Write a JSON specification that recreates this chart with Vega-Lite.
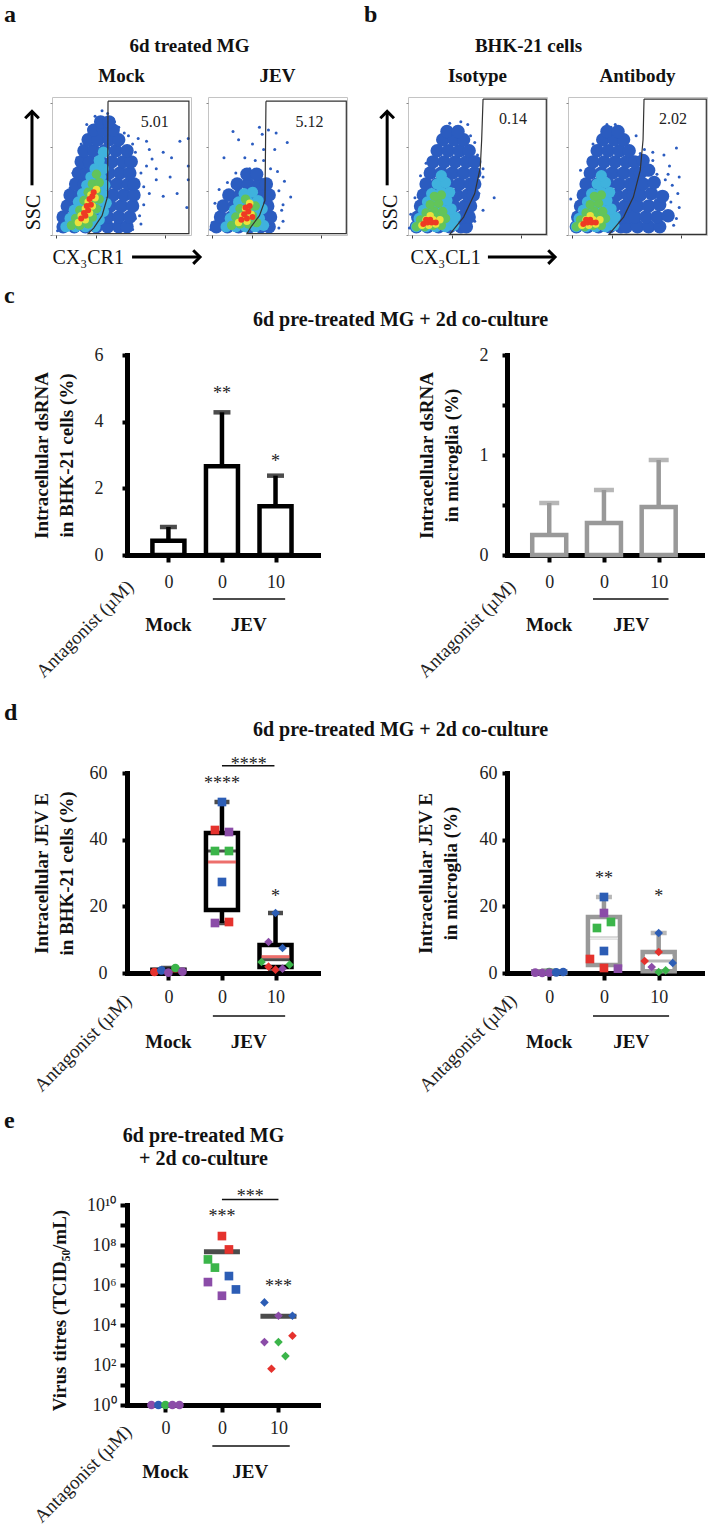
{
"$schema":"https://vega.github.io/schema/vega-lite/v6.json",
"background":"white",
"padding":{"left":0,"top":3,"right":0,"bottom":0},
"config":{
 "font":"Liberation Serif",
 "view":{"stroke":null},
 "title":{"font":"Liberation Serif","fontSize":20,"fontWeight":"bold","color":"#111"},
 "axis":{"labelFont":"Liberation Serif","titleFont":"Liberation Serif","grid":false},
 "text":{"font":"Liberation Serif"}
},
"datasets":{
 "one":[{"k":1}],
 "flow":[
{"p":1,"l":0,"x":62,"y":70},{"p":1,"l":0,"x":68,"y":68},{"p":1,"l":0,"x":72,"y":55},{"p":1,"l":0,"x":80,"y":60},{"p":1,"l":0,"x":98,"y":50},{"p":1,"l":0,"x":86,"y":56},{"p":1,"l":0,"x":64,"y":45},{"p":1,"l":0,"x":75,"y":40},{"p":1,"l":0,"x":70,"y":30},{"p":1,"l":0,"x":98,"y":40},{"p":1,"l":0,"x":98,"y":70},{"p":1,"l":0,"x":90,"y":30},{"p":1,"l":0,"x":85,"y":42},{"p":1,"l":0,"x":58,"y":66},{"p":1,"l":0,"x":55,"y":72},{"p":1,"l":0,"x":48,"y":78},{"p":1,"l":0,"x":44,"y":84},{"p":1,"l":0,"x":40,"y":88},{"p":1,"l":0,"x":36,"y":90},{"p":1,"l":0,"x":31,"y":86},{"p":1,"l":0,"x":66,"y":35},{"p":1,"l":0,"x":52,"y":74},{"p":1,"l":0,"x":66,"y":22},{"p":1,"l":0,"x":63,"y":14},{"p":1,"l":0,"x":64,"y":8},{"p":1,"l":0,"x":4,"y":3},{"p":1,"l":0,"x":5,"y":12},{"p":1,"l":0,"x":9,"y":24},{"p":1,"l":0,"x":13,"y":34},{"p":1,"l":0,"x":15,"y":45},{"p":1,"l":0,"x":18,"y":56},{"p":1,"l":0,"x":21,"y":66},{"p":1,"l":0,"x":24,"y":72},{"p":1,"l":0,"x":27,"y":78},{"p":1,"l":0,"x":45,"y":82},{"p":1,"l":0,"x":62,"y":28},{"p":1,"l":0,"x":97,"y":20},{"p":1,"l":0,"x":60,"y":60},{"p":1,"l":0,"x":68,"y":50},{"p":1,"l":0,"x":58,"y":4},{"p":1,"l":0,"x":60,"y":12},{"p":1,"l":0,"x":70,"y":62},{"p":1,"l":0,"x":75,"y":48},{"p":1,"l":0,"x":80,"y":28},{"p":1,"l":0,"x":92,"y":68},{"p":1,"l":0,"x":25,"y":80},
{"p":1,"l":1,"x":8,"y":6},{"p":1,"l":1,"x":16,"y":6},{"p":1,"l":1,"x":24,"y":6},{"p":1,"l":1,"x":32,"y":6},{"p":1,"l":1,"x":40,"y":6},{"p":1,"l":1,"x":48,"y":6},{"p":1,"l":1,"x":54,"y":6},
{"p":1,"l":1,"x":8,"y":13},{"p":1,"l":1,"x":16,"y":13},{"p":1,"l":1,"x":24,"y":13},{"p":1,"l":1,"x":32,"y":13},{"p":1,"l":1,"x":40,"y":13},{"p":1,"l":1,"x":48,"y":13},{"p":1,"l":1,"x":56,"y":13},
{"p":1,"l":1,"x":11,"y":21},{"p":1,"l":1,"x":18,"y":21},{"p":1,"l":1,"x":26,"y":21},{"p":1,"l":1,"x":34,"y":21},{"p":1,"l":1,"x":42,"y":21},{"p":1,"l":1,"x":50,"y":21},{"p":1,"l":1,"x":58,"y":21},
{"p":1,"l":1,"x":13,"y":29},{"p":1,"l":1,"x":20,"y":29},{"p":1,"l":1,"x":28,"y":29},{"p":1,"l":1,"x":36,"y":29},{"p":1,"l":1,"x":44,"y":29},{"p":1,"l":1,"x":52,"y":29},{"p":1,"l":1,"x":59,"y":29},
{"p":1,"l":1,"x":17,"y":37},{"p":1,"l":1,"x":23,"y":37},{"p":1,"l":1,"x":31,"y":37},{"p":1,"l":1,"x":39,"y":37},{"p":1,"l":1,"x":47,"y":37},{"p":1,"l":1,"x":55,"y":37},{"p":1,"l":1,"x":59,"y":37},
{"p":1,"l":1,"x":19,"y":45},{"p":1,"l":1,"x":25,"y":45},{"p":1,"l":1,"x":33,"y":45},{"p":1,"l":1,"x":41,"y":45},{"p":1,"l":1,"x":49,"y":45},{"p":1,"l":1,"x":56,"y":45},
{"p":1,"l":1,"x":21,"y":53},{"p":1,"l":1,"x":27,"y":53},{"p":1,"l":1,"x":35,"y":53},{"p":1,"l":1,"x":43,"y":53},{"p":1,"l":1,"x":51,"y":53},{"p":1,"l":1,"x":57,"y":53},
{"p":1,"l":1,"x":23,"y":61},{"p":1,"l":1,"x":30,"y":61},{"p":1,"l":1,"x":38,"y":61},{"p":1,"l":1,"x":46,"y":61},{"p":1,"l":1,"x":54,"y":61},
{"p":1,"l":1,"x":26,"y":69},{"p":1,"l":1,"x":33,"y":69},{"p":1,"l":1,"x":41,"y":69},{"p":1,"l":1,"x":48,"y":69},
{"p":1,"l":1,"x":30,"y":76},{"p":1,"l":1,"x":37,"y":76},{"p":1,"l":1,"x":44,"y":76},
{"p":1,"l":1,"x":35,"y":82},{"p":1,"l":1,"x":41,"y":82},
{"p":1,"l":2,"x":10,"y":6},{"p":1,"l":2,"x":17,"y":6},{"p":1,"l":2,"x":24,"y":6},{"p":1,"l":2,"x":31,"y":6},{"p":1,"l":2,"x":13,"y":12},{"p":1,"l":2,"x":20,"y":12},{"p":1,"l":2,"x":27,"y":12},{"p":1,"l":2,"x":34,"y":11},{"p":1,"l":2,"x":16,"y":18},{"p":1,"l":2,"x":23,"y":18},{"p":1,"l":2,"x":30,"y":18},{"p":1,"l":2,"x":37,"y":17},{"p":1,"l":2,"x":19,"y":24},{"p":1,"l":2,"x":26,"y":24},{"p":1,"l":2,"x":33,"y":24},{"p":1,"l":2,"x":39,"y":23},{"p":1,"l":2,"x":22,"y":30},{"p":1,"l":2,"x":29,"y":30},{"p":1,"l":2,"x":36,"y":30},{"p":1,"l":2,"x":25,"y":36},{"p":1,"l":2,"x":32,"y":36},{"p":1,"l":2,"x":38,"y":36},{"p":1,"l":2,"x":28,"y":42},{"p":1,"l":2,"x":35,"y":42},{"p":1,"l":2,"x":31,"y":48},{"p":1,"l":2,"x":37,"y":48},{"p":1,"l":2,"x":34,"y":54},{"p":1,"l":2,"x":37,"y":60},
{"p":1,"l":3,"x":14,"y":7},{"p":1,"l":3,"x":20,"y":7},{"p":1,"l":3,"x":26,"y":8},{"p":1,"l":3,"x":17,"y":12},{"p":1,"l":3,"x":23,"y":13},{"p":1,"l":3,"x":29,"y":13},{"p":1,"l":3,"x":20,"y":18},{"p":1,"l":3,"x":26,"y":19},{"p":1,"l":3,"x":32,"y":19},{"p":1,"l":3,"x":23,"y":25},{"p":1,"l":3,"x":29,"y":25},{"p":1,"l":3,"x":34,"y":26},{"p":1,"l":3,"x":26,"y":31},{"p":1,"l":3,"x":32,"y":32},{"p":1,"l":3,"x":29,"y":37},{"p":1,"l":3,"x":34,"y":38},{"p":1,"l":3,"x":32,"y":44},
{"p":1,"l":4,"x":19,"y":9},{"p":1,"l":4,"x":24,"y":11},{"p":1,"l":4,"x":21,"y":14},{"p":1,"l":4,"x":27,"y":16},{"p":1,"l":4,"x":24,"y":19},{"p":1,"l":4,"x":29,"y":21},{"p":1,"l":4,"x":26,"y":24},{"p":1,"l":4,"x":31,"y":27},{"p":1,"l":4,"x":28,"y":29},{"p":1,"l":4,"x":32,"y":33},
{"p":1,"l":5,"x":21,"y":12},{"p":1,"l":5,"x":24,"y":14},{"p":1,"l":5,"x":23,"y":16},{"p":1,"l":5,"x":26,"y":18},{"p":1,"l":5,"x":25,"y":21},{"p":1,"l":5,"x":28,"y":22},{"p":1,"l":5,"x":27,"y":26},{"p":1,"l":5,"x":29,"y":28},{"p":1,"l":5,"x":30,"y":31},
{"p":2,"l":0,"x":18,"y":75},{"p":2,"l":0,"x":22,"y":69},{"p":2,"l":0,"x":37,"y":78},{"p":2,"l":0,"x":39,"y":73},{"p":2,"l":0,"x":43.5,"y":76},{"p":2,"l":0,"x":49,"y":74},{"p":2,"l":0,"x":57,"y":67},{"p":2,"l":0,"x":32,"y":66},{"p":2,"l":0,"x":40,"y":62},{"p":2,"l":0,"x":48,"y":62},{"p":2,"l":0,"x":11.5,"y":56},{"p":2,"l":0,"x":26.5,"y":56},{"p":2,"l":0,"x":34,"y":54},{"p":2,"l":0,"x":40,"y":54},{"p":2,"l":0,"x":50,"y":46},{"p":2,"l":0,"x":55,"y":39},{"p":2,"l":0,"x":59.5,"y":27.5},{"p":2,"l":0,"x":8,"y":33},{"p":2,"l":0,"x":14,"y":38},{"p":2,"l":0,"x":5,"y":23},{"p":2,"l":0,"x":51,"y":32},{"p":2,"l":0,"x":51,"y":5},{"p":2,"l":0,"x":54,"y":10},{"p":2,"l":0,"x":2,"y":4},{"p":2,"l":0,"x":3,"y":9},{"p":2,"l":0,"x":53,"y":18},{"p":2,"l":0,"x":54,"y":22},{"p":2,"l":0,"x":45,"y":48},{"p":2,"l":0,"x":20,"y":45},{"p":2,"l":0,"x":30,"y":48},
{"p":2,"l":1,"x":6,"y":6},{"p":2,"l":1,"x":14,"y":6},{"p":2,"l":1,"x":22,"y":6},{"p":2,"l":1,"x":30,"y":6},{"p":2,"l":1,"x":38,"y":6},{"p":2,"l":1,"x":44,"y":6},
{"p":2,"l":1,"x":9,"y":13},{"p":2,"l":1,"x":17,"y":13},{"p":2,"l":1,"x":25,"y":13},{"p":2,"l":1,"x":33,"y":13},{"p":2,"l":1,"x":41,"y":13},{"p":2,"l":1,"x":45,"y":13},
{"p":2,"l":1,"x":11,"y":21},{"p":2,"l":1,"x":19,"y":21},{"p":2,"l":1,"x":27,"y":21},{"p":2,"l":1,"x":35,"y":21},{"p":2,"l":1,"x":43,"y":21},
{"p":2,"l":1,"x":15,"y":29},{"p":2,"l":1,"x":23,"y":29},{"p":2,"l":1,"x":31,"y":29},{"p":2,"l":1,"x":39,"y":29},{"p":2,"l":1,"x":44,"y":29},
{"p":2,"l":1,"x":21,"y":37},{"p":2,"l":1,"x":29,"y":37},{"p":2,"l":1,"x":37,"y":37},{"p":2,"l":1,"x":42,"y":37},
{"p":2,"l":1,"x":28,"y":44},{"p":2,"l":1,"x":35,"y":44},
{"p":2,"l":2,"x":13,"y":6},{"p":2,"l":2,"x":20,"y":6},{"p":2,"l":2,"x":27,"y":6},{"p":2,"l":2,"x":34,"y":6},{"p":2,"l":2,"x":40,"y":7},{"p":2,"l":2,"x":16,"y":12},{"p":2,"l":2,"x":23,"y":12},{"p":2,"l":2,"x":30,"y":12},{"p":2,"l":2,"x":37,"y":12},{"p":2,"l":2,"x":19,"y":18},{"p":2,"l":2,"x":26,"y":18},{"p":2,"l":2,"x":33,"y":18},{"p":2,"l":2,"x":39,"y":19},{"p":2,"l":2,"x":22,"y":24},{"p":2,"l":2,"x":29,"y":24},{"p":2,"l":2,"x":36,"y":25},{"p":2,"l":2,"x":26,"y":30},{"p":2,"l":2,"x":32,"y":31},
{"p":2,"l":3,"x":17,"y":7},{"p":2,"l":3,"x":23,"y":8},{"p":2,"l":3,"x":29,"y":8},{"p":2,"l":3,"x":35,"y":9},{"p":2,"l":3,"x":20,"y":13},{"p":2,"l":3,"x":26,"y":14},{"p":2,"l":3,"x":32,"y":14},{"p":2,"l":3,"x":23,"y":19},{"p":2,"l":3,"x":29,"y":20},{"p":2,"l":3,"x":34,"y":21},{"p":2,"l":3,"x":27,"y":26},
{"p":2,"l":4,"x":22,"y":9},{"p":2,"l":4,"x":28,"y":10},{"p":2,"l":4,"x":25,"y":14},{"p":2,"l":4,"x":31,"y":15},{"p":2,"l":4,"x":27,"y":19},{"p":2,"l":4,"x":30,"y":23},
{"p":2,"l":5,"x":24,"y":11},{"p":2,"l":5,"x":28,"y":12},{"p":2,"l":5,"x":26,"y":15},{"p":2,"l":5,"x":29,"y":17},{"p":2,"l":5,"x":27,"y":20},{"p":2,"l":5,"x":30,"y":21},{"p":2,"l":5,"x":32,"y":13},
{"p":3,"l":0,"x":43,"y":80},{"p":3,"l":0,"x":27,"y":77},{"p":3,"l":0,"x":34,"y":78},{"p":3,"l":0,"x":30,"y":81},{"p":3,"l":0,"x":19.5,"y":62},{"p":3,"l":0,"x":48,"y":67},{"p":3,"l":0,"x":54,"y":48},{"p":3,"l":0,"x":54,"y":42},{"p":3,"l":0,"x":62,"y":27},{"p":3,"l":0,"x":54,"y":18},{"p":3,"l":0,"x":9,"y":43},{"p":3,"l":0,"x":5,"y":27},{"p":3,"l":0,"x":2,"y":15},{"p":3,"l":0,"x":22,"y":70},{"p":3,"l":0,"x":45,"y":72},{"p":3,"l":0,"x":50,"y":58},{"p":3,"l":0,"x":13,"y":52},{"p":3,"l":0,"x":51,"y":30},{"p":3,"l":0,"x":48,"y":10},{"p":3,"l":0,"x":1,"y":5},{"p":3,"l":0,"x":38,"y":82},
{"p":3,"l":1,"x":6,"y":6},{"p":3,"l":1,"x":14,"y":6},{"p":3,"l":1,"x":22,"y":6},{"p":3,"l":1,"x":30,"y":6},{"p":3,"l":1,"x":38,"y":6},{"p":3,"l":1,"x":42,"y":6},
{"p":3,"l":1,"x":7,"y":13},{"p":3,"l":1,"x":15,"y":13},{"p":3,"l":1,"x":23,"y":13},{"p":3,"l":1,"x":31,"y":13},{"p":3,"l":1,"x":39,"y":13},{"p":3,"l":1,"x":44,"y":13},
{"p":3,"l":1,"x":9,"y":21},{"p":3,"l":1,"x":17,"y":21},{"p":3,"l":1,"x":25,"y":21},{"p":3,"l":1,"x":33,"y":21},{"p":3,"l":1,"x":41,"y":21},{"p":3,"l":1,"x":45,"y":21},
{"p":3,"l":1,"x":11,"y":29},{"p":3,"l":1,"x":19,"y":29},{"p":3,"l":1,"x":27,"y":29},{"p":3,"l":1,"x":35,"y":29},{"p":3,"l":1,"x":43,"y":29},{"p":3,"l":1,"x":47,"y":29},
{"p":3,"l":1,"x":13,"y":37},{"p":3,"l":1,"x":21,"y":37},{"p":3,"l":1,"x":29,"y":37},{"p":3,"l":1,"x":37,"y":37},{"p":3,"l":1,"x":45,"y":37},{"p":3,"l":1,"x":48,"y":37},
{"p":3,"l":1,"x":16,"y":45},{"p":3,"l":1,"x":24,"y":45},{"p":3,"l":1,"x":32,"y":45},{"p":3,"l":1,"x":40,"y":45},{"p":3,"l":1,"x":48,"y":45},
{"p":3,"l":1,"x":18,"y":53},{"p":3,"l":1,"x":26,"y":53},{"p":3,"l":1,"x":34,"y":53},{"p":3,"l":1,"x":42,"y":53},{"p":3,"l":1,"x":48,"y":53},
{"p":3,"l":1,"x":21,"y":61},{"p":3,"l":1,"x":29,"y":61},{"p":3,"l":1,"x":37,"y":61},{"p":3,"l":1,"x":44,"y":61},
{"p":3,"l":1,"x":25,"y":69},{"p":3,"l":1,"x":33,"y":69},{"p":3,"l":1,"x":40,"y":69},
{"p":3,"l":1,"x":28,"y":75},{"p":3,"l":1,"x":36,"y":75},
{"p":3,"l":2,"x":6,"y":6},{"p":3,"l":2,"x":13,"y":6},{"p":3,"l":2,"x":20,"y":6},{"p":3,"l":2,"x":27,"y":6},{"p":3,"l":2,"x":33,"y":7},{"p":3,"l":2,"x":8,"y":12},{"p":3,"l":2,"x":15,"y":12},{"p":3,"l":2,"x":22,"y":12},{"p":3,"l":2,"x":29,"y":12},{"p":3,"l":2,"x":34,"y":13},{"p":3,"l":2,"x":11,"y":18},{"p":3,"l":2,"x":18,"y":18},{"p":3,"l":2,"x":25,"y":18},{"p":3,"l":2,"x":31,"y":19},{"p":3,"l":2,"x":14,"y":24},{"p":3,"l":2,"x":21,"y":24},{"p":3,"l":2,"x":28,"y":25},{"p":3,"l":2,"x":17,"y":30},{"p":3,"l":2,"x":24,"y":31},{"p":3,"l":2,"x":30,"y":31},{"p":3,"l":2,"x":21,"y":37},{"p":3,"l":2,"x":27,"y":38},{"p":3,"l":2,"x":24,"y":43},
{"p":3,"l":3,"x":6,"y":6},{"p":3,"l":3,"x":12,"y":6},{"p":3,"l":3,"x":18,"y":7},{"p":3,"l":3,"x":24,"y":7},{"p":3,"l":3,"x":9,"y":11},{"p":3,"l":3,"x":15,"y":11},{"p":3,"l":3,"x":21,"y":12},{"p":3,"l":3,"x":27,"y":12},{"p":3,"l":3,"x":13,"y":16},{"p":3,"l":3,"x":19,"y":17},{"p":3,"l":3,"x":25,"y":17},{"p":3,"l":3,"x":16,"y":22},{"p":3,"l":3,"x":22,"y":23},{"p":3,"l":3,"x":19,"y":28},{"p":3,"l":3,"x":24,"y":29},
{"p":3,"l":4,"x":10,"y":7},{"p":3,"l":4,"x":15,"y":7},{"p":3,"l":4,"x":20,"y":8},{"p":3,"l":4,"x":13,"y":11},{"p":3,"l":4,"x":18,"y":11},{"p":3,"l":4,"x":23,"y":11},{"p":3,"l":4,"x":16,"y":14},
{"p":3,"l":5,"x":11,"y":8},{"p":3,"l":5,"x":14,"y":9},{"p":3,"l":5,"x":17,"y":9},{"p":3,"l":5,"x":20,"y":9},{"p":3,"l":5,"x":13,"y":11},{"p":3,"l":5,"x":16,"y":11},
{"p":4,"l":0,"x":78,"y":63},{"p":4,"l":0,"x":61,"y":60},{"p":4,"l":0,"x":61,"y":54},{"p":4,"l":0,"x":73,"y":50},{"p":4,"l":0,"x":80,"y":42},{"p":4,"l":0,"x":80,"y":20},{"p":4,"l":0,"x":79,"y":30},{"p":4,"l":0,"x":52,"y":59},{"p":4,"l":0,"x":55,"y":62},{"p":4,"l":0,"x":31,"y":78},{"p":4,"l":0,"x":37,"y":75},{"p":4,"l":0,"x":42,"y":70},{"p":4,"l":0,"x":25,"y":76},{"p":4,"l":0,"x":18,"y":66},{"p":4,"l":0,"x":9,"y":47},{"p":4,"l":0,"x":2,"y":26},{"p":4,"l":0,"x":49,"y":72},{"p":4,"l":0,"x":69,"y":58},{"p":4,"l":0,"x":63,"y":25},{"p":4,"l":0,"x":76,"y":7},{"p":4,"l":0,"x":66,"y":3},{"p":4,"l":0,"x":75,"y":36},{"p":4,"l":0,"x":72,"y":44},{"p":4,"l":0,"x":78,"y":12},{"p":4,"l":0,"x":70,"y":40},{"p":4,"l":0,"x":64,"y":44},{"p":4,"l":0,"x":74,"y":24},{"p":4,"l":0,"x":45,"y":56},{"p":4,"l":0,"x":34,"y":80},{"p":4,"l":0,"x":28,"y":80},
{"p":4,"l":1,"x":6,"y":6},{"p":4,"l":1,"x":14,"y":6},{"p":4,"l":1,"x":22,"y":6},{"p":4,"l":1,"x":30,"y":6},{"p":4,"l":1,"x":38,"y":6},{"p":4,"l":1,"x":42,"y":6},
{"p":4,"l":1,"x":7,"y":13},{"p":4,"l":1,"x":15,"y":13},{"p":4,"l":1,"x":23,"y":13},{"p":4,"l":1,"x":31,"y":13},{"p":4,"l":1,"x":39,"y":13},{"p":4,"l":1,"x":44,"y":13},
{"p":4,"l":1,"x":9,"y":21},{"p":4,"l":1,"x":17,"y":21},{"p":4,"l":1,"x":25,"y":21},{"p":4,"l":1,"x":33,"y":21},{"p":4,"l":1,"x":41,"y":21},{"p":4,"l":1,"x":45,"y":21},
{"p":4,"l":1,"x":11,"y":29},{"p":4,"l":1,"x":19,"y":29},{"p":4,"l":1,"x":27,"y":29},{"p":4,"l":1,"x":35,"y":29},{"p":4,"l":1,"x":43,"y":29},{"p":4,"l":1,"x":47,"y":29},
{"p":4,"l":1,"x":13,"y":37},{"p":4,"l":1,"x":21,"y":37},{"p":4,"l":1,"x":29,"y":37},{"p":4,"l":1,"x":37,"y":37},{"p":4,"l":1,"x":45,"y":37},{"p":4,"l":1,"x":48,"y":37},
{"p":4,"l":1,"x":16,"y":45},{"p":4,"l":1,"x":24,"y":45},{"p":4,"l":1,"x":32,"y":45},{"p":4,"l":1,"x":40,"y":45},{"p":4,"l":1,"x":48,"y":45},
{"p":4,"l":1,"x":18,"y":53},{"p":4,"l":1,"x":26,"y":53},{"p":4,"l":1,"x":34,"y":53},{"p":4,"l":1,"x":42,"y":53},{"p":4,"l":1,"x":48,"y":53},
{"p":4,"l":1,"x":21,"y":61},{"p":4,"l":1,"x":29,"y":61},{"p":4,"l":1,"x":37,"y":61},{"p":4,"l":1,"x":44,"y":61},
{"p":4,"l":1,"x":25,"y":69},{"p":4,"l":1,"x":33,"y":69},{"p":4,"l":1,"x":40,"y":69},
{"p":4,"l":1,"x":28,"y":75},{"p":4,"l":1,"x":36,"y":75},
{"p":4,"l":1,"x":50,"y":6},{"p":4,"l":1,"x":58,"y":6},{"p":4,"l":1,"x":66,"y":6},{"p":4,"l":1,"x":48,"y":13},{"p":4,"l":1,"x":56,"y":13},{"p":4,"l":1,"x":64,"y":13},{"p":4,"l":1,"x":72,"y":14},{"p":4,"l":1,"x":50,"y":21},{"p":4,"l":1,"x":58,"y":21},{"p":4,"l":1,"x":66,"y":22},{"p":4,"l":1,"x":52,"y":29},{"p":4,"l":1,"x":60,"y":30},{"p":4,"l":1,"x":68,"y":28},{"p":4,"l":1,"x":54,"y":37},{"p":4,"l":1,"x":62,"y":38},{"p":4,"l":1,"x":52,"y":45},{"p":4,"l":1,"x":58,"y":47},{"p":4,"l":1,"x":54,"y":54},
{"p":4,"l":2,"x":6,"y":6},{"p":4,"l":2,"x":13,"y":6},{"p":4,"l":2,"x":20,"y":6},{"p":4,"l":2,"x":27,"y":6},{"p":4,"l":2,"x":33,"y":7},{"p":4,"l":2,"x":8,"y":12},{"p":4,"l":2,"x":15,"y":12},{"p":4,"l":2,"x":22,"y":12},{"p":4,"l":2,"x":29,"y":12},{"p":4,"l":2,"x":34,"y":13},{"p":4,"l":2,"x":11,"y":18},{"p":4,"l":2,"x":18,"y":18},{"p":4,"l":2,"x":25,"y":18},{"p":4,"l":2,"x":31,"y":19},{"p":4,"l":2,"x":14,"y":24},{"p":4,"l":2,"x":21,"y":24},{"p":4,"l":2,"x":28,"y":25},{"p":4,"l":2,"x":17,"y":30},{"p":4,"l":2,"x":24,"y":31},{"p":4,"l":2,"x":30,"y":31},{"p":4,"l":2,"x":21,"y":37},{"p":4,"l":2,"x":27,"y":38},{"p":4,"l":2,"x":24,"y":43},
{"p":4,"l":3,"x":6,"y":6},{"p":4,"l":3,"x":12,"y":6},{"p":4,"l":3,"x":18,"y":7},{"p":4,"l":3,"x":24,"y":7},{"p":4,"l":3,"x":9,"y":11},{"p":4,"l":3,"x":15,"y":11},{"p":4,"l":3,"x":21,"y":12},{"p":4,"l":3,"x":27,"y":12},{"p":4,"l":3,"x":13,"y":16},{"p":4,"l":3,"x":19,"y":17},{"p":4,"l":3,"x":25,"y":17},{"p":4,"l":3,"x":16,"y":22},{"p":4,"l":3,"x":22,"y":23},{"p":4,"l":3,"x":19,"y":28},{"p":4,"l":3,"x":24,"y":29},
{"p":4,"l":4,"x":10,"y":7},{"p":4,"l":4,"x":15,"y":7},{"p":4,"l":4,"x":20,"y":8},{"p":4,"l":4,"x":13,"y":11},{"p":4,"l":4,"x":18,"y":11},{"p":4,"l":4,"x":23,"y":11},{"p":4,"l":4,"x":16,"y":14},
{"p":4,"l":5,"x":11,"y":8},{"p":4,"l":5,"x":14,"y":9},{"p":4,"l":5,"x":17,"y":9},{"p":4,"l":5,"x":20,"y":9},{"p":4,"l":5,"x":13,"y":11},{"p":4,"l":5,"x":16,"y":11}
 ],
 "gates":[
{"p":1,"i":0,"x":40.3,"y":97},{"p":1,"i":1,"x":98.5,"y":97},{"p":1,"i":2,"x":98.5,"y":1},{"p":1,"i":3,"x":26,"y":1},{"p":1,"i":4,"x":30,"y":5},{"p":1,"i":5,"x":36,"y":14},{"p":1,"i":6,"x":40,"y":28},{"p":1,"i":7,"x":40.3,"y":97},
{"p":2,"i":0,"x":41.7,"y":97},{"p":2,"i":1,"x":99.5,"y":97},{"p":2,"i":2,"x":99.5,"y":1},{"p":2,"i":3,"x":28,"y":1},{"p":2,"i":4,"x":31,"y":6},{"p":2,"i":5,"x":37,"y":14},{"p":2,"i":6,"x":41,"y":25},{"p":2,"i":7,"x":41.7,"y":97},
{"p":3,"i":0,"x":54,"y":98.5},{"p":3,"i":1,"x":99.5,"y":98.5},{"p":3,"i":2,"x":99.5,"y":0.5},{"p":3,"i":3,"x":30,"y":0.5},{"p":3,"i":4,"x":40,"y":13},{"p":3,"i":5,"x":48,"y":30},{"p":3,"i":6,"x":52,"y":49},{"p":3,"i":7,"x":53,"y":69},{"p":3,"i":8,"x":54,"y":98.5},
{"p":4,"i":0,"x":54.7,"y":98.5},{"p":4,"i":1,"x":99.5,"y":98.5},{"p":4,"i":2,"x":99.5,"y":0.5},{"p":4,"i":3,"x":29.5,"y":0.5},{"p":4,"i":4,"x":40,"y":13},{"p":4,"i":5,"x":47,"y":27.5},{"p":4,"i":6,"x":52,"y":47},{"p":4,"i":7,"x":54,"y":69},{"p":4,"i":8,"x":54.7,"y":98.5}
 ],
 "cL":[{"g":1,"mean":0.43,"upper":0.84},{"g":2,"mean":2.66,"upper":4.28},{"g":3,"mean":1.46,"upper":2.38}],
 "cR":[{"g":1,"mean":0.2,"upper":0.52},{"g":2,"mean":0.32,"upper":0.65},{"g":3,"mean":0.48,"upper":0.95}],
 "dLb":[{"g":1,"lo":0,"q1":0.2,"med":0.4,"mean":0.55,"q3":1.0,"hi":1.5},{"g":2,"lo":15,"q1":18.9,"med":36.6,"mean":33.3,"q3":42,"hi":51.3},{"g":3,"lo":0.5,"q1":1.8,"med":4.0,"mean":4.9,"q3":8.4,"hi":18}],
 "dLp":[
{"g":1,"v":0.3,"c":"red","s":"l2"},{"g":1,"v":0.8,"c":"blue","s":"l1"},{"g":1,"v":0.1,"c":"purple","s":"c"},{"g":1,"v":1.5,"c":"green","s":"r1"},{"g":1,"v":0.4,"c":"purple","s":"r2"},
{"g":2,"v":51.3,"c":"blue","s":"c"},{"g":2,"v":42.9,"c":"red","s":"l1"},{"g":2,"v":42.3,"c":"purple","s":"r1"},{"g":2,"v":36.6,"c":"green","s":"l1"},{"g":2,"v":36.6,"c":"green","s":"r1"},{"g":2,"v":27.3,"c":"blue","s":"c"},{"g":2,"v":15,"c":"purple","s":"l1"},{"g":2,"v":15.3,"c":"red","s":"r1"},
{"g":3,"v":18,"c":"blue","s":"c"},{"g":3,"v":9.3,"c":"purple","s":"l1"},{"g":3,"v":7.5,"c":"blue","s":"r1"},{"g":3,"v":3.3,"c":"green","s":"l2"},{"g":3,"v":2.5,"c":"green","s":"r2"},{"g":3,"v":1.9,"c":"red","s":"l1"},{"g":3,"v":1.0,"c":"red","s":"c"},{"g":3,"v":1.3,"c":"purple","s":"r1"}
 ],
 "dRb":[{"g":1,"lo":0,"q1":0,"med":0.2,"mean":0.2,"q3":0.5,"hi":0.8},{"g":2,"lo":1.3,"q1":2.4,"med":10.5,"mean":10.4,"q3":16.8,"hi":22.8},{"g":3,"lo":0.3,"q1":0.5,"med":3.6,"mean":4.8,"q3":6.3,"hi":12}],
 "dRp":[
{"g":1,"v":0.1,"c":"purple","s":"l2"},{"g":1,"v":0,"c":"purple","s":"l1"},{"g":1,"v":0.3,"c":"green","s":"c"},{"g":1,"v":0.1,"c":"purple","s":"c"},{"g":1,"v":0.2,"c":"blue","s":"r1"},{"g":1,"v":0.3,"c":"blue","s":"r2"},
{"g":2,"v":22.8,"c":"blue","s":"c"},{"g":2,"v":18,"c":"purple","s":"c"},{"g":2,"v":15.3,"c":"green","s":"r1"},{"g":2,"v":13.5,"c":"green","s":"l1"},{"g":2,"v":6.6,"c":"blue","s":"c"},{"g":2,"v":4.2,"c":"red","s":"l2"},{"g":2,"v":1.5,"c":"red","s":"c"},{"g":2,"v":1.3,"c":"purple","s":"r2"},
{"g":3,"v":12,"c":"blue","s":"c"},{"g":3,"v":6.3,"c":"red","s":"c"},{"g":3,"v":3.6,"c":"red","s":"l2"},{"g":3,"v":3.0,"c":"blue","s":"r2"},{"g":3,"v":1.8,"c":"purple","s":"l1"},{"g":3,"v":0.3,"c":"green","s":"c"},{"g":3,"v":0.8,"c":"green","s":"r1"}
 ],
 "ep":[
{"g":1,"v":1,"c":"purple","s":"l2"},{"g":1,"v":1,"c":"blue","s":"l1"},{"g":1,"v":1,"c":"green","s":"c"},{"g":1,"v":1,"c":"purple","s":"r1"},{"g":1,"v":1,"c":"purple","s":"r2"},
{"g":2,"v":280000000,"c":"red","s":"c"},{"g":2,"v":60000000,"c":"red","s":"r1"},{"g":2,"v":19000000,"c":"green","s":"l2"},{"g":2,"v":7400000,"c":"green","s":"l1"},{"g":2,"v":2800000,"c":"blue","s":"r1"},{"g":2,"v":1400000,"c":"purple","s":"l2"},{"g":2,"v":600000,"c":"blue","s":"r2"},{"g":2,"v":290000,"c":"purple","s":"c"},
{"g":3,"v":135000,"c":"blue","s":"l2"},{"g":3,"v":29000,"c":"purple","s":"c"},{"g":3,"v":29000,"c":"blue","s":"r2"},{"g":3,"v":2900,"c":"red","s":"r2"},{"g":3,"v":1400,"c":"purple","s":"l2"},{"g":3,"v":1400,"c":"green","s":"c"},{"g":3,"v":280,"c":"green","s":"r1"},{"g":3,"v":65,"c":"red","s":"l1"}
 ],
 "em":[{"g":2,"med":46000000},{"g":3,"med":27000}]
},
"spacing":0,
"bounds":"full",
"vconcat":[
 {"spacing":0,"bounds":"flush","hconcat":[
  {"width":52,"height":187,"view":{"fill":"#ffffff"},"title":{"text":"a","anchor":"start","fontSize":24,"offset":70,"dx":4},"data":{"values":[]},"mark":"point"},
  {"width":139,"height":138,"title":{"text":"Mock","offset":11,"fontSize":19},"view":{"stroke":"#c4c4c4"},
   "layer":[
    {"data":{"name":"flow"},"transform":[{"filter":"datum.p==1"}],"mark":{"type":"point","filled":true,"opacity":1,"strokeWidth":0,"shape":"circle"},
     "encoding":{
      "x":{"field":"x","type":"quantitative","scale":{"domain":[0,100],"nice":false,"zero":false},"axis":{"title":"CX₃CR1","titleX":0,"titleY":22,"titleAlign":"left","titleBaseline":"middle","titleAngle":0,"titleFontSize":20,"titleFontWeight":"normal","titleColor":"#111","labels":false,"domain":false,"tickSize":3,"tickColor":"#444","values":[3,5,7,9,10,11,12,13,14,15,16,17,19,23,27,30,32,34,35,36,44,50,54,56,58,59,60,68,74,77,79,80,81,82,89,94,97,98,99]}},
      "y":{"field":"y","type":"quantitative","scale":{"domain":[0,100],"nice":false,"zero":false},"axis":{"title":"SSC","titleX":-9,"titleY":115,"titleAlign":"center","titleBaseline":"bottom","titleAngle":-90,"titleFontSize":20,"titleFontWeight":"normal","titleColor":"#111","labels":false,"domain":false,"tickSize":2,"tickColor":"#888","values":[0,4,8,12,16,20,24,28,32,36,40,44,48,52,56,60,64,68,72,76,80,84,88,92,96,100]}},
      "color":{"field":"l","type":"quantitative","scale":{"type":"threshold","domain":[0.5,1.5,2.5,3.5,4.5],"range":["#2b5cc0","#2b5cc0","#3fb2dd","#62c45a","#ece23c","#ee3a24"]},"legend":null},
      "size":{"field":"l","type":"quantitative","scale":{"type":"threshold","domain":[0.5,1.5,2.5,3.5,4.5],"range":[9,180,125,88,55,36]},"legend":null}}},
    {"data":{"name":"gates"},"transform":[{"filter":"datum.p==1"}],"mark":{"type":"line","color":"#333","strokeWidth":1.2},"encoding":{"x":{"field":"x","type":"quantitative","scale":{"domain":[0,100],"nice":false,"zero":false}},"y":{"field":"y","type":"quantitative","scale":{"domain":[0,100],"nice":false,"zero":false}},"order":{"field":"i","type":"quantitative"}}},
    {"data":{"name":"one"},"mark":{"type":"text","fontSize":16,"color":"#222"},"encoding":{"x":{"datum":74,"type":"quantitative"},"y":{"datum":82,"type":"quantitative"},"text":{"value":"5.01"}}},
    {"data":{"name":"one"},"mark":{"type":"rule","color":"#000","strokeWidth":3},"encoding":{"x":{"datum":57.6,"type":"quantitative"},"x2":{"datum":106},"y":{"datum":-16,"type":"quantitative"}}},
    {"data":{"name":"one"},"mark":{"type":"point","shape":"M-0.7,-0.7L0,0L-0.7,0.7","size":380,"filled":false,"strokeWidth":3,"color":"#000","opacity":1},"encoding":{"x":{"datum":106.5,"type":"quantitative"},"y":{"datum":-16,"type":"quantitative"}}},
    {"data":{"name":"one"},"mark":{"type":"rule","color":"#000","strokeWidth":3},"encoding":{"x":{"datum":-14.4,"type":"quantitative"},"y":{"datum":36,"type":"quantitative"},"y2":{"datum":89}}},
    {"data":{"name":"one"},"mark":{"type":"point","shape":"M-0.7,0.7L0,0L0.7,0.7","size":380,"filled":false,"strokeWidth":3,"color":"#000","opacity":1},"encoding":{"x":{"datum":-14.4,"type":"quantitative"},"y":{"datum":89.5,"type":"quantitative"}}}
   ]},
  {"width":17,"height":1,"title":{"text":"6d treated MG","anchor":"middle","frame":"group","dx":-10,"offset":41,"fontSize":19},"data":{"values":[]},"mark":"point"},
  {"width":139,"height":138,"title":{"text":"JEV","offset":11,"fontSize":19},"view":{"stroke":"#c4c4c4"},
   "layer":[
    {"data":{"name":"flow"},"transform":[{"filter":"datum.p==2"}],"mark":{"type":"point","filled":true,"opacity":1,"strokeWidth":0,"shape":"circle"},
     "encoding":{
      "x":{"field":"x","type":"quantitative","scale":{"domain":[0,100],"nice":false,"zero":false},"axis":{"title":null,"labels":false,"domain":false,"tickSize":3,"tickColor":"#444","values":[3,5,7,9,10,11,12,13,14,15,16,17,19,23,27,30,32,34,35,36,44,50,54,56,58,59,60,68,74,77,79,80,81,82,89,94,97,98,99]}},
      "y":{"field":"y","type":"quantitative","scale":{"domain":[0,100],"nice":false,"zero":false},"axis":{"title":null,"labels":false,"domain":false,"tickSize":2,"tickColor":"#888","values":[0,4,8,12,16,20,24,28,32,36,40,44,48,52,56,60,64,68,72,76,80,84,88,92,96,100]}},
      "color":{"field":"l","type":"quantitative","scale":{"type":"threshold","domain":[0.5,1.5,2.5,3.5,4.5],"range":["#2b5cc0","#2b5cc0","#3fb2dd","#62c45a","#ece23c","#ee3a24"]},"legend":null},
      "size":{"field":"l","type":"quantitative","scale":{"type":"threshold","domain":[0.5,1.5,2.5,3.5,4.5],"range":[9,180,125,88,55,36]},"legend":null}}},
    {"data":{"name":"gates"},"transform":[{"filter":"datum.p==2"}],"mark":{"type":"line","color":"#333","strokeWidth":1.2},"encoding":{"x":{"field":"x","type":"quantitative","scale":{"domain":[0,100],"nice":false,"zero":false}},"y":{"field":"y","type":"quantitative","scale":{"domain":[0,100],"nice":false,"zero":false}},"order":{"field":"i","type":"quantitative"}}},
    {"data":{"name":"one"},"mark":{"type":"text","fontSize":16,"color":"#222"},"encoding":{"x":{"datum":73,"type":"quantitative"},"y":{"datum":82,"type":"quantitative"},"text":{"value":"5.12"}}}
   ]},
  {"width":61,"height":1,"title":{"text":"b","anchor":"start","fontSize":24,"offset":70,"dx":17},"data":{"values":[]},"mark":"point"},
  {"width":139,"height":138,"title":{"text":"Isotype","offset":11,"fontSize":19},"view":{"stroke":"#c4c4c4"},
   "layer":[
    {"data":{"name":"flow"},"transform":[{"filter":"datum.p==3"}],"mark":{"type":"point","filled":true,"opacity":1,"strokeWidth":0,"shape":"circle"},
     "encoding":{
      "x":{"field":"x","type":"quantitative","scale":{"domain":[0,100],"nice":false,"zero":false},"axis":{"title":"CX₃CL1","titleX":2,"titleY":22,"titleAlign":"left","titleBaseline":"middle","titleAngle":0,"titleFontSize":20,"titleFontWeight":"normal","titleColor":"#111","labels":false,"domain":false,"tickSize":3,"tickColor":"#444","values":[3,5,7,9,10,11,12,13,14,15,16,17,19,23,27,30,32,34,35,36,44,50,54,56,58,59,60,68,74,77,79,80,81,82,89,94,97,98,99]}},
      "y":{"field":"y","type":"quantitative","scale":{"domain":[0,100],"nice":false,"zero":false},"axis":{"title":"SSC","titleX":-8,"titleY":115,"titleAlign":"center","titleBaseline":"bottom","titleAngle":-90,"titleFontSize":20,"titleFontWeight":"normal","titleColor":"#111","labels":false,"domain":false,"tickSize":2,"tickColor":"#888","values":[0,4,8,12,16,20,24,28,32,36,40,44,48,52,56,60,64,68,72,76,80,84,88,92,96,100]}},
      "color":{"field":"l","type":"quantitative","scale":{"type":"threshold","domain":[0.5,1.5,2.5,3.5,4.5],"range":["#2b5cc0","#2b5cc0","#3fb2dd","#62c45a","#ece23c","#ee3a24"]},"legend":null},
      "size":{"field":"l","type":"quantitative","scale":{"type":"threshold","domain":[0.5,1.5,2.5,3.5,4.5],"range":[9,180,125,88,55,36]},"legend":null}}},
    {"data":{"name":"gates"},"transform":[{"filter":"datum.p==3"}],"mark":{"type":"line","color":"#333","strokeWidth":1.2},"encoding":{"x":{"field":"x","type":"quantitative","scale":{"domain":[0,100],"nice":false,"zero":false}},"y":{"field":"y","type":"quantitative","scale":{"domain":[0,100],"nice":false,"zero":false}},"order":{"field":"i","type":"quantitative"}}},
    {"data":{"name":"one"},"mark":{"type":"text","fontSize":16,"color":"#222"},"encoding":{"x":{"datum":75.5,"type":"quantitative"},"y":{"datum":84,"type":"quantitative"},"text":{"value":"0.14"}}},
    {"data":{"name":"one"},"mark":{"type":"rule","color":"#000","strokeWidth":3},"encoding":{"x":{"datum":57.5,"type":"quantitative"},"x2":{"datum":105.3},"y":{"datum":-16,"type":"quantitative"}}},
    {"data":{"name":"one"},"mark":{"type":"point","shape":"M-0.7,-0.7L0,0L-0.7,0.7","size":380,"filled":false,"strokeWidth":3,"color":"#000","opacity":1},"encoding":{"x":{"datum":105.8,"type":"quantitative"},"y":{"datum":-16,"type":"quantitative"}}},
    {"data":{"name":"one"},"mark":{"type":"rule","color":"#000","strokeWidth":3},"encoding":{"x":{"datum":-15,"type":"quantitative"},"y":{"datum":36,"type":"quantitative"},"y2":{"datum":89}}},
    {"data":{"name":"one"},"mark":{"type":"point","shape":"M-0.7,0.7L0,0L0.7,0.7","size":380,"filled":false,"strokeWidth":3,"color":"#000","opacity":1},"encoding":{"x":{"datum":-15,"type":"quantitative"},"y":{"datum":89.5,"type":"quantitative"}}}
   ]},
  {"width":21,"height":1,"title":{"text":"BHK-21 cells","anchor":"middle","frame":"group","dx":-29,"offset":41,"fontSize":19},"data":{"values":[]},"mark":"point"},
  {"width":139,"height":138,"title":{"text":"Antibody","offset":11,"fontSize":19},"view":{"stroke":"#c4c4c4"},
   "layer":[
    {"data":{"name":"flow"},"transform":[{"filter":"datum.p==4"}],"mark":{"type":"point","filled":true,"opacity":1,"strokeWidth":0,"shape":"circle"},
     "encoding":{
      "x":{"field":"x","type":"quantitative","scale":{"domain":[0,100],"nice":false,"zero":false},"axis":{"title":null,"labels":false,"domain":false,"tickSize":3,"tickColor":"#444","values":[3,5,7,9,10,11,12,13,14,15,16,17,19,23,27,30,32,34,35,36,44,50,54,56,58,59,60,68,74,77,79,80,81,82,89,94,97,98,99]}},
      "y":{"field":"y","type":"quantitative","scale":{"domain":[0,100],"nice":false,"zero":false},"axis":{"title":null,"labels":false,"domain":false,"tickSize":2,"tickColor":"#888","values":[0,4,8,12,16,20,24,28,32,36,40,44,48,52,56,60,64,68,72,76,80,84,88,92,96,100]}},
      "color":{"field":"l","type":"quantitative","scale":{"type":"threshold","domain":[0.5,1.5,2.5,3.5,4.5],"range":["#2b5cc0","#2b5cc0","#3fb2dd","#62c45a","#ece23c","#ee3a24"]},"legend":null},
      "size":{"field":"l","type":"quantitative","scale":{"type":"threshold","domain":[0.5,1.5,2.5,3.5,4.5],"range":[9,180,125,88,55,36]},"legend":null}}},
    {"data":{"name":"gates"},"transform":[{"filter":"datum.p==4"}],"mark":{"type":"line","color":"#333","strokeWidth":1.2},"encoding":{"x":{"field":"x","type":"quantitative","scale":{"domain":[0,100],"nice":false,"zero":false}},"y":{"field":"y","type":"quantitative","scale":{"domain":[0,100],"nice":false,"zero":false}},"order":{"field":"i","type":"quantitative"}}},
    {"data":{"name":"one"},"mark":{"type":"text","fontSize":16,"color":"#222"},"encoding":{"x":{"datum":75.5,"type":"quantitative"},"y":{"datum":84,"type":"quantitative"},"text":{"value":"2.02"}}}
   ]}
 ]},
 {"spacing":0,"bounds":"flush","hconcat":[
  {"width":127,"height":346,"view":{"fill":"#ffffff"},"title":{"text":"c","anchor":"start","fontSize":24,"offset":47,"dx":4},"data":{"values":[]},"mark":"point"},
  {"width":191,"height":200,
   "layer":[
    {"data":{"name":"cL"},"mark":{"type":"rule","color":"#000","strokeWidth":4.5},"encoding":{"x":{"field":"g","type":"quantitative","scale":{"domain":[0.32,3.7],"nice":false,"zero":false},"axis":{"values":[1,2,3],"labelExpr":"datum.value == 3 ? '10' : '0'","labelFontSize":18,"labelColor":"#222","labelPadding":11,"labelAngle":0,"domainColor":"#000","domainWidth":5,"domainCap":"square","tickColor":"#000","tickWidth":4,"tickSize":7,"title":"Antagonist  (µM)","titleAngle":-45,"titleX":3,"titleY":28,"titleAlign":"right","titleBaseline":"middle","titleFontSize":19,"titleFontWeight":"normal","titleColor":"#222"}},"y":{"field":"mean","type":"quantitative","scale":{"domain":[0,6],"nice":false},"axis":{"values":[0,2,4,6],"labelFontSize":18,"labelColor":"#222","labelPadding":19,"domainColor":"#000","domainWidth":5,"domainCap":"square","tickColor":"#000","tickWidth":4,"tickSize":5,"title":["Intracellular  dsRNA","in BHK-21 cells (%)"],"titleX":-76,"titleY":100,"titleAngle":-90,"titleAlign":"center","titleBaseline":"bottom","titleFontSize":19,"titleFontWeight":"bold","titleLineHeight":25,"titleColor":"#111"}},"y2":{"field":"upper"}}},
    {"data":{"name":"cL"},"mark":{"type":"tick","orient":"horizontal","color":"#000","size":17,"thickness":4.5},"encoding":{"x":{"field":"g","type":"quantitative","scale":{"domain":[0.32,3.7],"nice":false,"zero":false}},"y":{"field":"upper","type":"quantitative","scale":{"domain":[0,6],"nice":false}}}},
    {"data":{"name":"cL"},"mark":{"type":"bar","orient":"vertical","width":32,"fill":"#fff","stroke":"#000","strokeWidth":4.5},"encoding":{"x":{"field":"g","type":"quantitative","scale":{"domain":[0.32,3.7],"nice":false,"zero":false}},"y":{"field":"mean","type":"quantitative","scale":{"domain":[0,6],"nice":false}}}},
    {"data":{"name":"one"},"mark":{"type":"text","fontSize":19,"fontWeight":"bold","color":"#111","baseline":"middle"},"encoding":{"x":{"datum":1,"type":"quantitative"},"y":{"datum":-2.1,"type":"quantitative"},"text":{"value":"Mock"}}},
    {"data":{"name":"one"},"mark":{"type":"text","fontSize":19,"fontWeight":"bold","color":"#111","baseline":"middle"},"encoding":{"x":{"datum":2.5,"type":"quantitative"},"y":{"datum":-2.1,"type":"quantitative"},"text":{"value":"JEV"}}},
    {"data":{"name":"one"},"mark":{"type":"rule","color":"#111","strokeWidth":1.5},"encoding":{"x":{"datum":1.83,"type":"quantitative"},"x2":{"datum":3.18},"y":{"datum":-1.32,"type":"quantitative"}}},
    {"data":{"name":"one"},"mark":{"type":"text","fontSize":18,"color":"#222","baseline":"alphabetic"},"encoding":{"x":{"datum":2,"type":"quantitative"},"y":{"datum":4.68,"type":"quantitative"},"text":{"value":"**"}}},
    {"data":{"name":"one"},"mark":{"type":"text","fontSize":18,"color":"#222","baseline":"alphabetic"},"encoding":{"x":{"datum":3,"type":"quantitative"},"y":{"datum":2.64,"type":"quantitative"},"text":{"value":"*"}}}
   ]},
  {"width":189,"height":1,"title":{"text":"6d pre-treated MG + 2d co-culture","anchor":"middle","frame":"group","dx":-12,"offset":25},"data":{"values":[]},"mark":"point"},
  {"width":195,"height":200,
   "layer":[
    {"data":{"name":"cR"},"mark":{"type":"rule","color":"#999","strokeWidth":4.5},"encoding":{"x":{"field":"g","type":"quantitative","scale":{"domain":[0.32,3.7],"nice":false,"zero":false},"axis":{"values":[1,2,3],"labelExpr":"datum.value == 3 ? '10' : '0'","labelFontSize":18,"labelColor":"#222","labelPadding":11,"labelAngle":0,"domainColor":"#000","domainWidth":5,"domainCap":"square","tickColor":"#000","tickWidth":4,"tickSize":7,"title":"Antagonist  (µM)","titleAngle":-45,"titleX":5,"titleY":28,"titleAlign":"right","titleBaseline":"middle","titleFontSize":19,"titleFontWeight":"normal","titleColor":"#222"}},"y":{"field":"mean","type":"quantitative","scale":{"domain":[0,2],"nice":false},"axis":{"values":[0,0.5,1,1.5,2],"labelExpr":"datum.value == 0 ? '0' : datum.value == 1 ? '1' : datum.value == 2 ? '2' : ''","labelOverlap":false,"labelFontSize":18,"labelColor":"#222","labelPadding":14,"domainColor":"#000","domainWidth":5,"domainCap":"square","tickColor":"#000","tickWidth":4,"tickSize":5,"title":["Intracellular  dsRNA","in microglia (%)"],"titleX":-71,"titleY":100,"titleAngle":-90,"titleAlign":"center","titleBaseline":"bottom","titleFontSize":19,"titleFontWeight":"bold","titleLineHeight":25,"titleColor":"#111"}},"y2":{"field":"upper"}}},
    {"data":{"name":"cR"},"mark":{"type":"tick","orient":"horizontal","color":"#999","size":20,"thickness":4.5},"encoding":{"x":{"field":"g","type":"quantitative","scale":{"domain":[0.32,3.7],"nice":false,"zero":false}},"y":{"field":"upper","type":"quantitative","scale":{"domain":[0,2],"nice":false}}}},
    {"data":{"name":"cR"},"mark":{"type":"bar","orient":"vertical","width":34,"fill":"#fff","stroke":"#999","strokeWidth":4.5},"encoding":{"x":{"field":"g","type":"quantitative","scale":{"domain":[0.32,3.7],"nice":false,"zero":false}},"y":{"field":"mean","type":"quantitative","scale":{"domain":[0,2],"nice":false}}}},
    {"data":{"name":"one"},"mark":{"type":"text","fontSize":19,"fontWeight":"bold","color":"#111","baseline":"middle"},"encoding":{"x":{"datum":1,"type":"quantitative"},"y":{"datum":-0.7,"type":"quantitative"},"text":{"value":"Mock"}}},
    {"data":{"name":"one"},"mark":{"type":"text","fontSize":19,"fontWeight":"bold","color":"#111","baseline":"middle"},"encoding":{"x":{"datum":2.5,"type":"quantitative"},"y":{"datum":-0.7,"type":"quantitative"},"text":{"value":"JEV"}}},
    {"data":{"name":"one"},"mark":{"type":"rule","color":"#111","strokeWidth":1.5},"encoding":{"x":{"datum":1.8,"type":"quantitative"},"x2":{"datum":3.18},"y":{"datum":-0.44,"type":"quantitative"}}}
   ]}
 ]},
 {"spacing":0,"bounds":"flush","hconcat":[
  {"width":127,"height":336,"view":{"fill":"#ffffff"},"title":{"text":"d","anchor":"start","fontSize":24,"offset":48,"dx":4},"data":{"values":[]},"mark":"point"},
  {"width":191,"height":200,
   "layer":[
    {"data":{"name":"dLb"},"mark":{"type":"rule","color":"#000","strokeWidth":4.5},"encoding":{"x":{"field":"g","type":"quantitative","scale":{"domain":[0.32,3.7],"nice":false,"zero":false},"axis":{"values":[1,2,3],"labelExpr":"datum.value == 3 ? '10' : '0'","labelFontSize":18,"labelColor":"#222","labelPadding":8,"labelAngle":0,"domainColor":"#000","domainWidth":5,"domainCap":"square","tickColor":"#000","tickWidth":4,"tickSize":7,"title":"Antagonist  (µM)","titleAngle":-45,"titleX":1,"titleY":24,"titleAlign":"right","titleBaseline":"middle","titleFontSize":19,"titleFontWeight":"normal","titleColor":"#222"}},"y":{"field":"lo","type":"quantitative","scale":{"domain":[0,60],"nice":false},"axis":{"values":[0,20,40,60],"labelFontSize":18,"labelColor":"#222","labelPadding":15,"domainColor":"#000","domainWidth":5,"domainCap":"square","tickColor":"#000","tickWidth":4,"tickSize":5,"title":["Intracellular  JEV E","in BHK-21 cells (%)"],"titleX":-76,"titleY":100,"titleAngle":-90,"titleAlign":"center","titleBaseline":"bottom","titleFontSize":19,"titleFontWeight":"bold","titleLineHeight":25,"titleColor":"#111"}},"y2":{"field":"hi"}}},
    {"data":{"name":"dLb"},"mark":{"type":"tick","orient":"horizontal","color":"#000","size":15,"thickness":4.5},"encoding":{"x":{"field":"g","type":"quantitative","scale":{"domain":[0.32,3.7],"nice":false,"zero":false}},"y":{"field":"hi","type":"quantitative","scale":{"domain":[0,60],"nice":false}}}},
    {"data":{"name":"dLb"},"mark":{"type":"tick","orient":"horizontal","color":"#000","size":15,"thickness":4.5},"encoding":{"x":{"field":"g","type":"quantitative","scale":{"domain":[0.32,3.7],"nice":false,"zero":false}},"y":{"field":"lo","type":"quantitative","scale":{"domain":[0,60],"nice":false}}}},
    {"data":{"name":"dLb"},"mark":{"type":"bar","orient":"vertical","width":32,"fill":"#fff","stroke":"#000","strokeWidth":4.5},"encoding":{"x":{"field":"g","type":"quantitative","scale":{"domain":[0.32,3.7],"nice":false,"zero":false}},"y":{"field":"q1","type":"quantitative","scale":{"domain":[0,60],"nice":false}},"y2":{"field":"q3"}}},
    {"data":{"name":"dLb"},"mark":{"type":"tick","orient":"horizontal","color":"#000","size":28,"thickness":3},"encoding":{"x":{"field":"g","type":"quantitative","scale":{"domain":[0.32,3.7],"nice":false,"zero":false}},"y":{"field":"med","type":"quantitative","scale":{"domain":[0,60],"nice":false}}}},
    {"data":{"name":"dLb"},"mark":{"type":"tick","orient":"horizontal","color":"#e5322d","size":28,"thickness":3},"encoding":{"x":{"field":"g","type":"quantitative","scale":{"domain":[0.32,3.7],"nice":false,"zero":false}},"y":{"field":"mean","type":"quantitative","scale":{"domain":[0,60],"nice":false}}}},
    {"data":{"name":"dLp"},"transform":[{"filter":"datum.s=='l2'"}],"mark":{"type":"point","filled":true,"opacity":1,"size":75,"strokeWidth":0,"xOffset":-14},"encoding":{"x":{"field":"g","type":"quantitative","scale":{"domain":[0.32,3.7],"nice":false,"zero":false}},"y":{"field":"v","type":"quantitative","scale":{"domain":[0,60],"nice":false}},"shape":{"field":"g","type":"nominal","scale":{"domain":[1,2,3],"range":["circle","square","diamond"]},"legend":null},"color":{"field":"c","type":"nominal","scale":{"domain":["red","green","blue","purple"],"range":["#e5322d","#3bb54a","#2c5db5","#8b4ca8"]},"legend":null}}},
    {"data":{"name":"dLp"},"transform":[{"filter":"datum.s=='l1'"}],"mark":{"type":"point","filled":true,"opacity":1,"size":75,"strokeWidth":0,"xOffset":-7},"encoding":{"x":{"field":"g","type":"quantitative","scale":{"domain":[0.32,3.7],"nice":false,"zero":false}},"y":{"field":"v","type":"quantitative","scale":{"domain":[0,60],"nice":false}},"shape":{"field":"g","type":"nominal","scale":{"domain":[1,2,3],"range":["circle","square","diamond"]},"legend":null},"color":{"field":"c","type":"nominal","scale":{"domain":["red","green","blue","purple"],"range":["#e5322d","#3bb54a","#2c5db5","#8b4ca8"]},"legend":null}}},
    {"data":{"name":"dLp"},"transform":[{"filter":"datum.s=='c'"}],"mark":{"type":"point","filled":true,"opacity":1,"size":75,"strokeWidth":0,"xOffset":0},"encoding":{"x":{"field":"g","type":"quantitative","scale":{"domain":[0.32,3.7],"nice":false,"zero":false}},"y":{"field":"v","type":"quantitative","scale":{"domain":[0,60],"nice":false}},"shape":{"field":"g","type":"nominal","scale":{"domain":[1,2,3],"range":["circle","square","diamond"]},"legend":null},"color":{"field":"c","type":"nominal","scale":{"domain":["red","green","blue","purple"],"range":["#e5322d","#3bb54a","#2c5db5","#8b4ca8"]},"legend":null}}},
    {"data":{"name":"dLp"},"transform":[{"filter":"datum.s=='r1'"}],"mark":{"type":"point","filled":true,"opacity":1,"size":75,"strokeWidth":0,"xOffset":7},"encoding":{"x":{"field":"g","type":"quantitative","scale":{"domain":[0.32,3.7],"nice":false,"zero":false}},"y":{"field":"v","type":"quantitative","scale":{"domain":[0,60],"nice":false}},"shape":{"field":"g","type":"nominal","scale":{"domain":[1,2,3],"range":["circle","square","diamond"]},"legend":null},"color":{"field":"c","type":"nominal","scale":{"domain":["red","green","blue","purple"],"range":["#e5322d","#3bb54a","#2c5db5","#8b4ca8"]},"legend":null}}},
    {"data":{"name":"dLp"},"transform":[{"filter":"datum.s=='r2'"}],"mark":{"type":"point","filled":true,"opacity":1,"size":75,"strokeWidth":0,"xOffset":14},"encoding":{"x":{"field":"g","type":"quantitative","scale":{"domain":[0.32,3.7],"nice":false,"zero":false}},"y":{"field":"v","type":"quantitative","scale":{"domain":[0,60],"nice":false}},"shape":{"field":"g","type":"nominal","scale":{"domain":[1,2,3],"range":["circle","square","diamond"]},"legend":null},"color":{"field":"c","type":"nominal","scale":{"domain":["red","green","blue","purple"],"range":["#e5322d","#3bb54a","#2c5db5","#8b4ca8"]},"legend":null}}},
    {"data":{"name":"one"},"mark":{"type":"text","fontSize":19,"fontWeight":"bold","color":"#111","baseline":"middle"},"encoding":{"x":{"datum":1,"type":"quantitative"},"y":{"datum":-20.7,"type":"quantitative"},"text":{"value":"Mock"}}},
    {"data":{"name":"one"},"mark":{"type":"text","fontSize":19,"fontWeight":"bold","color":"#111","baseline":"middle"},"encoding":{"x":{"datum":2.5,"type":"quantitative"},"y":{"datum":-20.7,"type":"quantitative"},"text":{"value":"JEV"}}},
    {"data":{"name":"one"},"mark":{"type":"rule","color":"#111","strokeWidth":1.5},"encoding":{"x":{"datum":1.83,"type":"quantitative"},"x2":{"datum":3.18},"y":{"datum":-12.9,"type":"quantitative"}}},
    {"data":{"name":"one"},"mark":{"type":"text","fontSize":18,"color":"#222","baseline":"alphabetic"},"encoding":{"x":{"datum":2,"type":"quantitative"},"y":{"datum":55.2,"type":"quantitative"},"text":{"value":"****"}}},
    {"data":{"name":"one"},"mark":{"type":"rule","color":"#111","strokeWidth":1.5},"encoding":{"x":{"datum":2.0,"type":"quantitative"},"x2":{"datum":2.98},"y":{"datum":62.2,"type":"quantitative"}}},
    {"data":{"name":"one"},"mark":{"type":"text","fontSize":18,"color":"#222","baseline":"alphabetic"},"encoding":{"x":{"datum":2.5,"type":"quantitative"},"y":{"datum":61,"type":"quantitative"},"text":{"value":"****"}}},
    {"data":{"name":"one"},"mark":{"type":"text","fontSize":18,"color":"#222","baseline":"alphabetic"},"encoding":{"x":{"datum":3,"type":"quantitative"},"y":{"datum":21.3,"type":"quantitative"},"text":{"value":"*"}}}
   ]},
  {"width":189,"height":1,"title":{"text":"6d pre-treated MG + 2d co-culture","anchor":"middle","frame":"group","dx":-12,"offset":33},"data":{"values":[]},"mark":"point"},
  {"width":195,"height":200,
   "layer":[
    {"data":{"name":"dRb"},"mark":{"type":"rule","color":"#999","strokeWidth":4.5},"encoding":{"x":{"field":"g","type":"quantitative","scale":{"domain":[0.32,3.7],"nice":false,"zero":false},"axis":{"values":[1,2,3],"labelExpr":"datum.value == 3 ? '10' : '0'","labelFontSize":18,"labelColor":"#222","labelPadding":8,"labelAngle":0,"domainColor":"#000","domainWidth":5,"domainCap":"square","tickColor":"#000","tickWidth":4,"tickSize":7,"title":"Antagonist  (µM)","titleAngle":-45,"titleX":6,"titleY":24,"titleAlign":"right","titleBaseline":"middle","titleFontSize":19,"titleFontWeight":"normal","titleColor":"#222"}},"y":{"field":"lo","type":"quantitative","scale":{"domain":[0,60],"nice":false},"axis":{"values":[0,20,40,60],"labelFontSize":18,"labelColor":"#222","labelPadding":5,"domainColor":"#000","domainWidth":5,"domainCap":"square","tickColor":"#000","tickWidth":4,"tickSize":5,"title":["Intracellular  JEV E","in microglia (%)"],"titleX":-72,"titleY":100,"titleAngle":-90,"titleAlign":"center","titleBaseline":"bottom","titleFontSize":19,"titleFontWeight":"bold","titleLineHeight":25,"titleColor":"#111"}},"y2":{"field":"hi"}}},
    {"data":{"name":"dRb"},"mark":{"type":"tick","orient":"horizontal","color":"#999","size":16,"thickness":4.5},"encoding":{"x":{"field":"g","type":"quantitative","scale":{"domain":[0.32,3.7],"nice":false,"zero":false}},"y":{"field":"hi","type":"quantitative","scale":{"domain":[0,60],"nice":false}}}},
    {"data":{"name":"dRb"},"mark":{"type":"bar","orient":"vertical","width":32,"fill":"#fff","stroke":"#999","strokeWidth":4.5},"encoding":{"x":{"field":"g","type":"quantitative","scale":{"domain":[0.32,3.7],"nice":false,"zero":false}},"y":{"field":"q1","type":"quantitative","scale":{"domain":[0,60],"nice":false}},"y2":{"field":"q3"}}},
    {"data":{"name":"dRb"},"mark":{"type":"tick","orient":"horizontal","color":"#999","size":28,"thickness":3},"encoding":{"x":{"field":"g","type":"quantitative","scale":{"domain":[0.32,3.7],"nice":false,"zero":false}},"y":{"field":"med","type":"quantitative","scale":{"domain":[0,60],"nice":false}}}},
    {"data":{"name":"dRb"},"mark":{"type":"tick","orient":"horizontal","color":"#ffffff","size":28,"thickness":2},"encoding":{"x":{"field":"g","type":"quantitative","scale":{"domain":[0.32,3.7],"nice":false,"zero":false}},"y":{"field":"mean","type":"quantitative","scale":{"domain":[0,60],"nice":false}}}},
    {"data":{"name":"dRp"},"transform":[{"filter":"datum.s=='l2'"}],"mark":{"type":"point","filled":true,"opacity":1,"size":75,"strokeWidth":0,"xOffset":-14},"encoding":{"x":{"field":"g","type":"quantitative","scale":{"domain":[0.32,3.7],"nice":false,"zero":false}},"y":{"field":"v","type":"quantitative","scale":{"domain":[0,60],"nice":false}},"shape":{"field":"g","type":"nominal","scale":{"domain":[1,2,3],"range":["circle","square","diamond"]},"legend":null},"color":{"field":"c","type":"nominal","scale":{"domain":["red","green","blue","purple"],"range":["#e5322d","#3bb54a","#2c5db5","#8b4ca8"]},"legend":null}}},
    {"data":{"name":"dRp"},"transform":[{"filter":"datum.s=='l1'"}],"mark":{"type":"point","filled":true,"opacity":1,"size":75,"strokeWidth":0,"xOffset":-7},"encoding":{"x":{"field":"g","type":"quantitative","scale":{"domain":[0.32,3.7],"nice":false,"zero":false}},"y":{"field":"v","type":"quantitative","scale":{"domain":[0,60],"nice":false}},"shape":{"field":"g","type":"nominal","scale":{"domain":[1,2,3],"range":["circle","square","diamond"]},"legend":null},"color":{"field":"c","type":"nominal","scale":{"domain":["red","green","blue","purple"],"range":["#e5322d","#3bb54a","#2c5db5","#8b4ca8"]},"legend":null}}},
    {"data":{"name":"dRp"},"transform":[{"filter":"datum.s=='c'"}],"mark":{"type":"point","filled":true,"opacity":1,"size":75,"strokeWidth":0,"xOffset":0},"encoding":{"x":{"field":"g","type":"quantitative","scale":{"domain":[0.32,3.7],"nice":false,"zero":false}},"y":{"field":"v","type":"quantitative","scale":{"domain":[0,60],"nice":false}},"shape":{"field":"g","type":"nominal","scale":{"domain":[1,2,3],"range":["circle","square","diamond"]},"legend":null},"color":{"field":"c","type":"nominal","scale":{"domain":["red","green","blue","purple"],"range":["#e5322d","#3bb54a","#2c5db5","#8b4ca8"]},"legend":null}}},
    {"data":{"name":"dRp"},"transform":[{"filter":"datum.s=='r1'"}],"mark":{"type":"point","filled":true,"opacity":1,"size":75,"strokeWidth":0,"xOffset":7},"encoding":{"x":{"field":"g","type":"quantitative","scale":{"domain":[0.32,3.7],"nice":false,"zero":false}},"y":{"field":"v","type":"quantitative","scale":{"domain":[0,60],"nice":false}},"shape":{"field":"g","type":"nominal","scale":{"domain":[1,2,3],"range":["circle","square","diamond"]},"legend":null},"color":{"field":"c","type":"nominal","scale":{"domain":["red","green","blue","purple"],"range":["#e5322d","#3bb54a","#2c5db5","#8b4ca8"]},"legend":null}}},
    {"data":{"name":"dRp"},"transform":[{"filter":"datum.s=='r2'"}],"mark":{"type":"point","filled":true,"opacity":1,"size":75,"strokeWidth":0,"xOffset":14},"encoding":{"x":{"field":"g","type":"quantitative","scale":{"domain":[0.32,3.7],"nice":false,"zero":false}},"y":{"field":"v","type":"quantitative","scale":{"domain":[0,60],"nice":false}},"shape":{"field":"g","type":"nominal","scale":{"domain":[1,2,3],"range":["circle","square","diamond"]},"legend":null},"color":{"field":"c","type":"nominal","scale":{"domain":["red","green","blue","purple"],"range":["#e5322d","#3bb54a","#2c5db5","#8b4ca8"]},"legend":null}}},
    {"data":{"name":"one"},"mark":{"type":"text","fontSize":19,"fontWeight":"bold","color":"#111","baseline":"middle"},"encoding":{"x":{"datum":1,"type":"quantitative"},"y":{"datum":-20.7,"type":"quantitative"},"text":{"value":"Mock"}}},
    {"data":{"name":"one"},"mark":{"type":"text","fontSize":19,"fontWeight":"bold","color":"#111","baseline":"middle"},"encoding":{"x":{"datum":2.5,"type":"quantitative"},"y":{"datum":-20.7,"type":"quantitative"},"text":{"value":"JEV"}}},
    {"data":{"name":"one"},"mark":{"type":"rule","color":"#111","strokeWidth":1.5},"encoding":{"x":{"datum":1.8,"type":"quantitative"},"x2":{"datum":3.19},"y":{"datum":-12.9,"type":"quantitative"}}},
    {"data":{"name":"one"},"mark":{"type":"text","fontSize":18,"color":"#222","baseline":"alphabetic"},"encoding":{"x":{"datum":2,"type":"quantitative"},"y":{"datum":26.7,"type":"quantitative"},"text":{"value":"**"}}},
    {"data":{"name":"one"},"mark":{"type":"text","fontSize":18,"color":"#222","baseline":"alphabetic"},"encoding":{"x":{"datum":3,"type":"quantitative"},"y":{"datum":21.3,"type":"quantitative"},"text":{"value":"*"}}}
   ]}
 ]},
 {"spacing":0,"bounds":"flush","hconcat":[
  {"width":127,"height":1,"view":{"fill":"#ffffff"},"title":{"text":"e","anchor":"start","fontSize":24,"offset":72,"dx":4},"data":{"values":[]},"mark":"point"},
  {"width":191,"height":200,
   "title":{"text":["6d pre-treated MG","+ 2d co-culture"],"frame":"group","anchor":"middle","dx":-19,"offset":19,"lineHeight":23},
   "layer":[
    {"data":{"name":"em"},"mark":{"type":"tick","orient":"horizontal","color":"#000","size":36,"thickness":5},"encoding":{"x":{"field":"g","type":"quantitative","scale":{"domain":[0.32,3.7],"nice":false,"zero":false},"axis":{"values":[1,2,3],"labelExpr":"datum.value == 3 ? '10' : '0'","labelFontSize":18,"labelColor":"#222","labelPadding":7,"labelAngle":0,"domainColor":"#000","domainWidth":5,"domainCap":"square","tickColor":"#000","tickWidth":4,"tickSize":7,"title":"Antagonist  (µM)","titleAngle":-45,"titleX":1,"titleY":23,"titleAlign":"right","titleBaseline":"middle","titleFontSize":19,"titleFontWeight":"normal","titleColor":"#222"}},"y":{"field":"med","type":"quantitative","scale":{"type":"log","domain":[1,10000000000],"nice":false},"axis":{"values":[1,10,100,1000,10000,100000,1000000,10000000,100000000,1000000000,10000000000],"labelExpr":"datum.value == 1 ? '10⁰' : datum.value == 100 ? '10²' : datum.value == 10000 ? '10⁴' : datum.value == 1000000 ? '10⁶' : datum.value == 100000000 ? '10⁸' : datum.value == 10000000000 ? '10¹⁰' : ''","labelOverlap":false,"labelFontSize":18,"labelColor":"#222","labelPadding":4,"domainColor":"#000","domainWidth":5,"domainCap":"square","tickColor":"#000","tickWidth":4,"tickSize":7,"title":"Virus titres (TCID₅₀/mL)","titleX":-58,"titleY":105,"titleAngle":-90,"titleAlign":"center","titleBaseline":"bottom","titleFontSize":19,"titleFontWeight":"bold","titleColor":"#111"}}}},
    {"data":{"name":"ep"},"transform":[{"filter":"datum.s=='l2'"}],"mark":{"type":"point","filled":true,"opacity":1,"size":75,"strokeWidth":0,"xOffset":-14},"encoding":{"x":{"field":"g","type":"quantitative","scale":{"domain":[0.32,3.7],"nice":false,"zero":false}},"y":{"field":"v","type":"quantitative","scale":{"type":"log","domain":[1,10000000000],"nice":false}},"shape":{"field":"g","type":"nominal","scale":{"domain":[1,2,3],"range":["circle","square","diamond"]},"legend":null},"color":{"field":"c","type":"nominal","scale":{"domain":["red","green","blue","purple"],"range":["#e5322d","#3bb54a","#2c5db5","#8b4ca8"]},"legend":null}}},
    {"data":{"name":"ep"},"transform":[{"filter":"datum.s=='l1'"}],"mark":{"type":"point","filled":true,"opacity":1,"size":75,"strokeWidth":0,"xOffset":-7},"encoding":{"x":{"field":"g","type":"quantitative","scale":{"domain":[0.32,3.7],"nice":false,"zero":false}},"y":{"field":"v","type":"quantitative","scale":{"type":"log","domain":[1,10000000000],"nice":false}},"shape":{"field":"g","type":"nominal","scale":{"domain":[1,2,3],"range":["circle","square","diamond"]},"legend":null},"color":{"field":"c","type":"nominal","scale":{"domain":["red","green","blue","purple"],"range":["#e5322d","#3bb54a","#2c5db5","#8b4ca8"]},"legend":null}}},
    {"data":{"name":"ep"},"transform":[{"filter":"datum.s=='c'"}],"mark":{"type":"point","filled":true,"opacity":1,"size":75,"strokeWidth":0,"xOffset":0},"encoding":{"x":{"field":"g","type":"quantitative","scale":{"domain":[0.32,3.7],"nice":false,"zero":false}},"y":{"field":"v","type":"quantitative","scale":{"type":"log","domain":[1,10000000000],"nice":false}},"shape":{"field":"g","type":"nominal","scale":{"domain":[1,2,3],"range":["circle","square","diamond"]},"legend":null},"color":{"field":"c","type":"nominal","scale":{"domain":["red","green","blue","purple"],"range":["#e5322d","#3bb54a","#2c5db5","#8b4ca8"]},"legend":null}}},
    {"data":{"name":"ep"},"transform":[{"filter":"datum.s=='r1'"}],"mark":{"type":"point","filled":true,"opacity":1,"size":75,"strokeWidth":0,"xOffset":7},"encoding":{"x":{"field":"g","type":"quantitative","scale":{"domain":[0.32,3.7],"nice":false,"zero":false}},"y":{"field":"v","type":"quantitative","scale":{"type":"log","domain":[1,10000000000],"nice":false}},"shape":{"field":"g","type":"nominal","scale":{"domain":[1,2,3],"range":["circle","square","diamond"]},"legend":null},"color":{"field":"c","type":"nominal","scale":{"domain":["red","green","blue","purple"],"range":["#e5322d","#3bb54a","#2c5db5","#8b4ca8"]},"legend":null}}},
    {"data":{"name":"ep"},"transform":[{"filter":"datum.s=='r2'"}],"mark":{"type":"point","filled":true,"opacity":1,"size":75,"strokeWidth":0,"xOffset":14},"encoding":{"x":{"field":"g","type":"quantitative","scale":{"domain":[0.32,3.7],"nice":false,"zero":false}},"y":{"field":"v","type":"quantitative","scale":{"type":"log","domain":[1,10000000000],"nice":false}},"shape":{"field":"g","type":"nominal","scale":{"domain":[1,2,3],"range":["circle","square","diamond"]},"legend":null},"color":{"field":"c","type":"nominal","scale":{"domain":["red","green","blue","purple"],"range":["#e5322d","#3bb54a","#2c5db5","#8b4ca8"]},"legend":null}}},
    {"data":{"name":"one"},"mark":{"type":"text","fontSize":19,"fontWeight":"bold","color":"#111","baseline":"middle"},"encoding":{"x":{"datum":1,"type":"quantitative"},"y":{"datum":0.00045,"type":"quantitative"},"text":{"value":"Mock"}}},
    {"data":{"name":"one"},"mark":{"type":"text","fontSize":19,"fontWeight":"bold","color":"#111","baseline":"middle"},"encoding":{"x":{"datum":2.5,"type":"quantitative"},"y":{"datum":0.00045,"type":"quantitative"},"text":{"value":"JEV"}}},
    {"data":{"name":"one"},"mark":{"type":"rule","color":"#111","strokeWidth":1.5},"encoding":{"x":{"datum":1.83,"type":"quantitative"},"x2":{"datum":3.2},"y":{"datum":0.0089,"type":"quantitative"}}},
    {"data":{"name":"one"},"mark":{"type":"text","fontSize":18,"color":"#222","baseline":"alphabetic"},"encoding":{"x":{"datum":2,"type":"quantitative"},"y":{"datum":1360000000,"type":"quantitative"},"text":{"value":"***"}}},
    {"data":{"name":"one"},"mark":{"type":"text","fontSize":18,"color":"#222","baseline":"alphabetic"},"encoding":{"x":{"datum":3,"type":"quantitative"},"y":{"datum":440000,"type":"quantitative"},"text":{"value":"***"}}},
    {"data":{"name":"one"},"mark":{"type":"rule","color":"#111","strokeWidth":1.5},"encoding":{"x":{"datum":2.0,"type":"quantitative"},"x2":{"datum":3.0},"y":{"datum":19000000000,"type":"quantitative"}}},
    {"data":{"name":"one"},"mark":{"type":"text","fontSize":18,"color":"#222","baseline":"alphabetic"},"encoding":{"x":{"datum":2.5,"type":"quantitative"},"y":{"datum":13500000000,"type":"quantitative"},"text":{"value":"***"}}}
   ]}
 ]}
]
}
